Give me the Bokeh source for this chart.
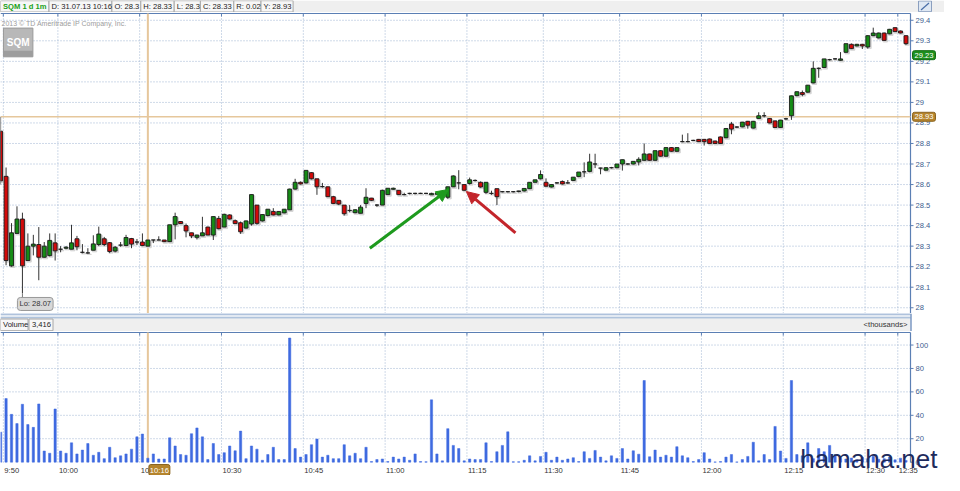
from bokeh.plotting import figure
from bokeh.models import Range1d, Label, Arrow, NormalHead, ColumnDataSource
from bokeh.layouts import column
from bokeh.embed import file_html
from bokeh.resources import INLINE
from bokeh.core.properties import value

# ---------------- data (one bar per traded minute, bar 0 = 9:50) ----------------
bars = list(range(-1, 166))

opens = [
    28.86, 28.64, 28.204, 28.362, 28.432, 28.23, 28.30, 28.308, 28.246, 28.254,
    28.316, 28.285, 28.29, 28.285, 28.336, 28.27, 28.267, 28.28, 28.308, 28.336,
    28.317, 28.276, 28.305, 28.303, 28.337, 28.32, 28.32, 28.30, 28.33, 28.33,
    28.33, 28.322, 28.404, 28.42, 28.40, 28.365, 28.343, 28.35, 28.393, 28.354,
    28.435, 28.393, 28.452, 28.424, 28.414, 28.388, 28.408, 28.50, 28.423, 28.449,
    28.469, 28.452, 28.462, 28.477, 28.578, 28.611, 28.608, 28.658, 28.628, 28.59,
    28.589, 28.541, 28.523, 28.50, 28.474, 28.463, 28.46, 28.508, 28.534, 28.50,
    28.50, 28.551, 28.577, 28.572, 28.551, 28.557, 28.557, 28.557, 28.557, 28.55,
    28.553, 28.549, 28.538, 28.589, 28.608, 28.60, 28.605, 28.62, 28.611, 28.562,
    28.557, 28.58, 28.565, 28.565, 28.565, 28.566, 28.569, 28.58, 28.611, 28.628,
    28.611, 28.588, 28.608, 28.615, 28.608, 28.62, 28.639, 28.662, 28.664, 28.70,
    28.68, 28.67, 28.682, 28.682, 28.70, 28.70, 28.70, 28.71, 28.718, 28.749,
    28.718, 28.765, 28.738, 28.78, 28.762, 28.809, 28.809, 28.815, 28.82, 28.82,
    28.822, 28.812, 28.832, 28.828, 28.895, 28.88, 28.881, 28.908, 28.875, 28.922,
    28.935, 28.922, 28.91, 28.878, 28.92, 28.935, 29.033, 29.048, 29.05, 29.095,
    29.166, 29.17, 29.208, 29.212, 29.205, 29.244, 29.283, 29.275, 29.283, 29.27,
    29.325, 29.314, 29.338, 29.334, 29.364, 29.348, 29.325,
]
highs = [
    28.93, 28.683, 28.412, 28.494, 28.463, 28.362, 28.355, 28.393, 28.32, 28.362,
    28.362, 28.30, 28.30, 28.404, 28.35, 28.31, 28.29, 28.353, 28.395, 28.345,
    28.32, 28.30, 28.32, 28.355, 28.34, 28.335, 28.362, 28.33, 28.33, 28.348,
    28.33, 28.404, 28.463, 28.422, 28.41, 28.365, 28.356, 28.443, 28.395, 28.444,
    28.447, 28.458, 28.455, 28.43, 28.42, 28.425, 28.551, 28.50, 28.454, 28.48,
    28.485, 28.47, 28.48, 28.58, 28.628, 28.615, 28.669, 28.66, 28.628, 28.608,
    28.59, 28.545, 28.525, 28.50, 28.50, 28.48, 28.50, 28.582, 28.535, 28.505,
    28.575, 28.582, 28.585, 28.572, 28.56, 28.56, 28.56, 28.56, 28.56, 28.56,
    28.557, 28.558, 28.59, 28.645, 28.67, 28.60, 28.634, 28.625, 28.615, 28.612,
    28.57, 28.58, 28.568, 28.568, 28.568, 28.57, 28.581, 28.611, 28.623, 28.669,
    28.63, 28.60, 28.612, 28.62, 28.622, 28.636, 28.661, 28.708, 28.75, 28.75,
    28.682, 28.685, 28.686, 28.70, 28.721, 28.704, 28.713, 28.733, 28.80, 28.75,
    28.765, 28.767, 28.78, 28.782, 28.78, 28.843, 28.85, 28.818, 28.822, 28.822,
    28.824, 28.814, 28.834, 28.875, 28.905, 28.884, 28.905, 28.91, 28.91, 28.952,
    28.952, 28.924, 28.912, 28.915, 28.925, 29.033, 29.053, 29.058, 29.085, 29.20,
    29.17, 29.212, 29.212, 29.216, 29.245, 29.286, 29.287, 29.285, 29.285, 29.327,
    29.364, 29.34, 29.34, 29.358, 29.366, 29.35, 29.327,
]
lows = [
    28.60, 28.207, 28.20, 28.36, 28.07, 28.23, 28.255, 28.134, 28.245, 28.25,
    28.23, 28.27, 28.285, 28.285, 28.28, 28.265, 28.263, 28.28, 28.30, 28.30,
    28.266, 28.27, 28.297, 28.30, 28.29, 28.305, 28.30, 28.30, 28.315, 28.33,
    28.32, 28.32, 28.333, 28.408, 28.343, 28.339, 28.333, 28.35, 28.354, 28.33,
    28.382, 28.393, 28.43, 28.41, 28.36, 28.385, 28.40, 28.405, 28.42, 28.445,
    28.45, 28.45, 28.46, 28.477, 28.575, 28.60, 28.605, 28.625, 28.55, 28.585,
    28.54, 28.505, 28.50, 28.449, 28.465, 28.46, 28.46, 28.485, 28.52, 28.492,
    28.50, 28.55, 28.575, 28.55, 28.548, 28.552, 28.552, 28.555, 28.555, 28.55,
    28.55, 28.548, 28.53, 28.588, 28.577, 28.57, 28.60, 28.615, 28.585, 28.555,
    28.55, 28.50, 28.562, 28.562, 28.562, 28.562, 28.566, 28.578, 28.61, 28.625,
    28.59, 28.586, 28.604, 28.60, 28.604, 28.618, 28.636, 28.636, 28.66, 28.68,
    28.65, 28.668, 28.678, 28.68, 28.668, 28.697, 28.698, 28.693, 28.716, 28.716,
    28.716, 28.736, 28.736, 28.76, 28.76, 28.806, 28.806, 28.812, 28.807, 28.79,
    28.798, 28.798, 28.798, 28.826, 28.845, 28.876, 28.879, 28.872, 28.873, 28.92,
    28.927, 28.898, 28.877, 28.876, 28.915, 28.915, 29.03, 29.03, 29.048, 29.093,
    29.12, 29.168, 29.204, 29.208, 29.203, 29.242, 29.26, 29.273, 29.26, 29.262,
    29.323, 29.312, 29.30, 29.332, 29.343, 29.336, 29.28,
]
closes = [
    28.618, 28.23, 28.365, 28.432, 28.204, 28.30, 28.31, 28.246, 28.30, 28.328,
    28.277, 28.285, 28.295, 28.316, 28.297, 28.27, 28.267, 28.311, 28.359, 28.308,
    28.274, 28.295, 28.305, 28.342, 28.31, 28.32, 28.303, 28.33, 28.33, 28.33,
    28.322, 28.404, 28.444, 28.41, 28.374, 28.35, 28.354, 28.365, 28.354, 28.444,
    28.385, 28.455, 28.432, 28.41, 28.37, 28.423, 28.551, 28.411, 28.454, 28.48,
    28.452, 28.469, 28.48, 28.578, 28.611, 28.603, 28.669, 28.628, 28.589, 28.59,
    28.541, 28.508, 28.505, 28.458, 28.474, 28.477, 28.49, 28.538, 28.523, 28.50,
    28.572, 28.582, 28.582, 28.551, 28.551, 28.557, 28.557, 28.557, 28.557, 28.557,
    28.556, 28.557, 28.589, 28.642, 28.608, 28.572, 28.623, 28.62, 28.588, 28.611,
    28.557, 28.541, 28.565, 28.565, 28.565, 28.569, 28.581, 28.611, 28.623, 28.649,
    28.592, 28.60, 28.608, 28.603, 28.608, 28.636, 28.661, 28.662, 28.71, 28.70,
    28.68, 28.682, 28.682, 28.70, 28.721, 28.70, 28.713, 28.723, 28.749, 28.718,
    28.765, 28.738, 28.78, 28.762, 28.78, 28.809, 28.809, 28.815, 28.809, 28.809,
    28.80, 28.80, 28.80, 28.873, 28.87, 28.88, 28.904, 28.889, 28.908, 28.935,
    28.935, 28.90, 28.878, 28.914, 28.92, 29.032, 29.052, 29.039, 29.084, 29.166,
    29.166, 29.212, 29.208, 29.212, 29.212, 29.286, 29.262, 29.283, 29.275, 29.325,
    29.338, 29.338, 29.302, 29.356, 29.345, 29.338, 29.286,
]
volume_k = [
    25.6, 54.3, 40.8, 32.9, 49.4, 32.1, 29.7, 49.7, 9.5, 7.6,
    45.4, 9.5, 7.6, 16.5, 7.0, 10.3, 15.9, 5.9, 8.4, 3.0,
    12.7, 3.8, 5.4, 7.0, 11.1, 21.6, 24.0, 3.4, 7.0, 2.7,
    2.7, 20.8, 13.8, 6.5, 5.9, 24.3, 29.2, 21.6, 2.2, 15.9,
    6.5, 8.1, 13.8, 9.7, 26.5, 3.0, 13.8, 11.1, 1.6, 6.5,
    12.7, 2.2, 2.2, 106.0, 11.6, 4.3, 6.5, 14.9, 19.7, 4.3,
    5.9, 3.0, 3.0, 14.9, 5.4, 7.6, 3.0, 12.7, 0.5, 2.2,
    2.7, 0.5, 4.3, 2.7, 4.3, 1.6, 7.0, 0.5, 0.3, 53.2,
    7.0, 1.1, 28.6, 14.3, 11.6, 1.1, 2.7, 2.2, 2.2, 16.5,
    0.5, 8.9, 14.3, 25.9, 0.3, 0.3, 1.6, 5.4, 1.1, 4.9,
    8.4, 1.6, 4.3, 1.6, 2.7, 3.8, 0.5, 8.9, 3.2, 10.0,
    4.3, 1.1, 5.4, 3.2, 11.6, 2.7, 9.7, 6.8, 69.7, 4.6,
    10.3, 4.3, 5.9, 4.3, 13.2, 5.4, 3.8, 0.5, 2.2, 8.1,
    2.7, 0.2, 0.5, 4.3, 6.5, 0.2, 2.2, 4.9, 17.0, 1.1,
    6.5, 2.2, 30.5, 9.5, 3.2, 69.7, 6.5, 5.4, 16.5, 3.0,
    11.6, 8.9, 14.3, 6.5, 3.2, 2.7, 3.5, 2.0, 4.0, 3.0,
    5.0, 2.5, 3.0, 4.3, 2.0, 3.4, 1.5,
]

tick_bars = [0, 10, 25, 40, 55, 70, 85, 99, 113, 128, 143, 158, 164]
tick_labels = ["9:50", "10:00", "10:15", "10:30", "10:45", "11:00", "11:15",
               "11:30", "11:45", "12:00", "12:15", "12:30", "12:35"]
price_ticks = [28.0, 28.1, 28.2, 28.3, 28.4, 28.5, 28.6, 28.7, 28.8, 28.9,
               29.0, 29.1, 29.2, 29.3, 29.4]
price_labels = ["28", "28.1", "28.2", "28.3", "28.4", "28.5", "28.6", "28.7",
                "28.8", "28.9", "29", "29.1", "29.2", "29.3", "29.4"]
volume_ticks = [0, 20, 40, 60, 80, 100]
volume_labels = ["0", "20", "40", "60", "80", "100"]

header_items = ["SQM 1 d 1m", "D: 31.07.13 10:16", "O: 28.3", "H: 28.33",
                "L: 28.3", "C: 28.33", "R: 0.02", "Y: 28.93"]
cursor_bar = 26
cursor_label = "10:16"
volume_at_cursor = "3,416"
last_price = 29.23
prev_close = 28.93
session_low = 28.07
low_bar = 3
green_arrow = (66.7, 28.29, 81.1, 28.576)
red_arrow = (93.4, 28.365, 84.4, 28.566)

# ---------------- geometry / styling ----------------
FONT = "Liberation Sans"
AX_BLUE = "#5b7fb4"
LBL_BLUE = "#3d5d8e"
GRID = "#9fb4d2"
UP = "#168c16"
DOWN = "#d20a0a"
TAN = "#e6c79c"
GOLD = "#b5842c"
W = 944                 # canvas width
FW = 910                # plotting area width (right of it: value axis)
X0, X1 = -1.02, 165.83  # bar range of the plotting area
PPB = FW / (X1 - X0)    # pixels per bar
XE = X0 + W / PPB       # canvas right edge in bar units
xr = Range1d(X0, XE)
grid_x = [b - 0.5 for b in tick_bars]

PH = 301
P_LO, P_TOP = 27.972, 29.433
P_UPP = (P_TOP - P_LO) / (PH - 1)
VH = 144
V_ZERO, V_TOP = -0.3, 110.7
V_UPP = (V_TOP - V_ZERO) / 130.0


def panel(height, y0, y1):
    f = figure(width=W, height=height, x_range=xr, y_range=Range1d(y0, y1),
               output_backend="svg", toolbar_location=None,
               x_axis_location=None, y_axis_location=None,
               min_border_left=0, min_border_right=0, min_border_top=0,
               min_border_bottom=0, outline_line_color=None)
    f.grid.grid_line_color = None
    f.background_fill_color = "white"
    f.border_fill_color = "white"
    return f


# ---------------- header bar ----------------
h1 = figure(width=W, height=12, x_range=Range1d(0, W), y_range=Range1d(0, 12),
            output_backend="svg", toolbar_location=None,
            min_border_left=0, min_border_right=0, min_border_top=0, min_border_bottom=0,
            x_axis_location=None, y_axis_location=None, outline_line_color=None)
h1.grid.grid_line_color = None
h1.quad(left=0, right=W, bottom=0, top=12, fill_color="#efefef", line_color=None)
bx = [0, 48.5, 111.4, 140.3, 173.7, 199.9, 233.3, 260.5, 292.6]
h1.quad(left=bx[:-1], right=bx[1:], bottom=0.5, top=11.8, fill_color="#f7f7f7",
        line_color="#a8a8a8", line_width=1)
h1.text(x=[b + 2.5 for b in bx[:-1]], y=[6] * len(header_items), text=header_items,
        text_baseline="middle", text_font=value(FONT), text_font_size="7.6px",
        text_color=["#19a019"] + ["#222222"] * (len(header_items) - 1),
        text_font_style=["bold"] + ["normal"] * (len(header_items) - 1))
h1.quad(left=918, right=931, bottom=0.8, top=11.5, fill_color="#dfe8f3",
        line_color="#8b9fbf")
h1.segment(x0=920.5, y0=2.5, x1=928.5, y1=9.5, line_color="#4a6fa8", line_width=1.2)

# ---------------- price panel ----------------
p = panel(PH, P_LO, P_TOP + P_UPP)
dot = dict(line_color=GRID, line_dash="1 2", line_width=1)
p.segment(x0=grid_x, y0=[P_LO] * len(grid_x), x1=grid_x, y1=[P_TOP] * len(grid_x), **dot)
p.segment(x0=[X0] * len(price_ticks), y0=price_ticks, x1=[X1] * len(price_ticks),
          y1=price_ticks, **dot)
p.segment(x0=[X0], y0=[P_TOP], x1=[X1], y1=[P_TOP], line_color=AX_BLUE, line_width=1.2)
p.segment(x0=grid_x, y0=[P_TOP] * len(grid_x), x1=grid_x,
          y1=[P_TOP - 3 * P_UPP] * len(grid_x), line_color=AX_BLUE)
p.segment(x0=[X1], y0=[P_LO], x1=[X1], y1=[P_TOP], line_color=AX_BLUE, line_width=1.2)
p.segment(x0=[X1] * len(price_ticks), y0=price_ticks, x1=[X1 + 3 / PPB] * len(price_ticks),
          y1=price_ticks, line_color=AX_BLUE)
p.text(x=[X1] * len(price_ticks), y=price_ticks, text=price_labels, x_offset=5,
       text_baseline="middle", text_font=value(FONT), text_font_size="7.6px",
       text_color=LBL_BLUE)

p.segment(x0=[X0], y0=[prev_close], x1=[X1], y1=[prev_close], line_color=TAN, line_width=1.6)
p.segment(x0=[cursor_bar], y0=[P_LO], x1=[cursor_bar], y1=[P_TOP], line_color=TAN,
          line_width=2)

src = ColumnDataSource(dict(
    x=bars, h=[max(a, b, c) for a, b, c in zip(highs, opens, closes)],
    l=[min(a, b, c) for a, b, c in zip(lows, opens, closes)],
    top=[max(a, b) for a, b in zip(opens, closes)],
    bot=[min(a, b) for a, b in zip(opens, closes)],
    col=[UP if c >= o else DOWN for o, c in zip(opens, closes)],
))
shadow = ColumnDataSource(dict(
    x=[b + 1.2 / PPB for b in bars],
    top=[max(a, b) - 1.2 * P_UPP for a, b in zip(opens, closes)],
    bot=[min(a, b) - 1.6 * P_UPP for a, b in zip(opens, closes)],
))
p.vbar(x="x", width=0.8, top="top", bottom="bot", source=shadow, fill_color="#d4d4d4",
       line_color="#d4d4d4", line_width=1)
p.segment(x0="x", y0="l", x1="x", y1="h", source=src, line_color="#333333", line_width=1)
p.vbar(x="x", width=0.72, top="top", bottom="bot", source=src, fill_color="col",
       line_color="#1b1b1b", line_width=0.9)

# logo + copyright
p.add_layout(Label(x=X0, y=P_TOP, x_offset=1, y_offset=-6,
                   text="2013 © TD Ameritrade IP Company, Inc.",
                   text_font=FONT, text_font_size="7px", text_color="#9c9c9c",
                   text_baseline="top"))
p.quad(left=-0.48, right=4.92, bottom=29.222, top=29.362, fill_color="#b8b8b8",
       line_color="#9a9a9a")
p.quad(left=-0.48, right=4.92, bottom=29.222, top=29.252, fill_color="#9d9d9d",
       line_color=None)
p.text(x=[2.22], y=[29.29], text=["SQM"], text_align="center", text_baseline="middle",
       text_font=value(FONT), text_font_size="10px", text_font_style="bold",
       text_color="white")

# session low tag
p.segment(x0=[low_bar], y0=[session_low], x1=[low_bar], y1=[session_low - 0.02],
          line_color="#777777", line_width=1)
p.add_layout(Label(x=low_bar, y=session_low - 0.02, x_offset=-5, y_offset=0,
                   text="Lo: " + f"{session_low:.2f}", text_baseline="top",
                   text_font=FONT, text_font_size="7.6px", text_color="#333333",
                   background_fill_color="#d8d8d8", border_line_color="#999999",
                   padding=2, border_radius=3))

# arrows
for (xs, ys, xe, ye), colr in ((green_arrow, "#1e9a1e"), (red_arrow, "#c3252b")):
    p.add_layout(Arrow(x_start=xs, y_start=ys, x_end=xe, y_end=ye,
                       line_color=colr, line_width=3,
                       end=NormalHead(size=12, fill_color=colr, line_color=colr)))

# value-axis tags
p.text(x=[X1, X1], y=[last_price, prev_close],
       text=[f"{last_price:.2f}", f"{prev_close:.2f}"], x_offset=2,
       text_baseline="middle", text_font=value(FONT), text_font_size="7.6px",
       text_color="white", background_fill_color=["#1d8f1d", GOLD],
       border_line_color=["#136b13", "#8a6420"], padding=2, border_radius=2)

# ---------------- separator + volume header ----------------
h2 = figure(width=W, height=18, x_range=Range1d(0, W), y_range=Range1d(0, 18),
            output_backend="svg", toolbar_location=None,
            min_border_left=0, min_border_right=0, min_border_top=0, min_border_bottom=0,
            x_axis_location=None, y_axis_location=None, outline_line_color=None)
h2.grid.grid_line_color = None
h2.quad(left=0, right=FW, bottom=13, top=18, fill_color="#e2e9f2", line_color=None)
h2.segment(x0=[0, 0], y0=[17.5, 13.5], x1=[FW, FW], y1=[17.5, 13.5],
           line_color="#7d9cc6", line_width=1)
h2.quad(left=0, right=FW, bottom=0, top=13, fill_color="#efefef", line_color=None)
h2.quad(left=[0, 28.5], right=[27.5, 52.5], bottom=0.8, top=12.5, fill_color="#f7f7f7",
        line_color="#a8a8a8")
h2.text(x=[2.5, 31.5], y=[6.6, 6.6], text=["Volume", volume_at_cursor],
        text_baseline="middle", text_font=value(FONT), text_font_size="7.6px",
        text_color="#222222")
h2.text(x=[FW - 3], y=[6.6], text=["<thousands>"], text_align="right",
        text_baseline="middle", text_font=value(FONT), text_font_size="7.6px",
        text_color="#333333")
h2.segment(x0=[FW + 0.5], y0=[0], x1=[FW + 0.5], y1=[18], line_color=AX_BLUE,
           line_width=1.2)

# ---------------- volume panel ----------------
v = panel(VH, V_ZERO - 13 * V_UPP, V_TOP + V_UPP)
v.segment(x0=grid_x, y0=[V_ZERO] * len(grid_x), x1=grid_x, y1=[V_TOP] * len(grid_x), **dot)
v.segment(x0=[X0] * 5, y0=volume_ticks[1:], x1=[X1] * 5, y1=volume_ticks[1:], **dot)
v.segment(x0=[X0], y0=[V_TOP], x1=[X1], y1=[V_TOP], line_color=AX_BLUE, line_width=1.2)
v.segment(x0=grid_x, y0=[V_TOP] * len(grid_x), x1=grid_x,
          y1=[V_TOP - 3 * V_UPP] * len(grid_x), line_color=AX_BLUE)
v.segment(x0=[X1], y0=[V_ZERO], x1=[X1], y1=[V_TOP], line_color=AX_BLUE, line_width=1.2)
v.segment(x0=[X1] * len(volume_ticks), y0=volume_ticks,
          x1=[X1 + 3 / PPB] * len(volume_ticks), y1=volume_ticks, line_color=AX_BLUE)
v.text(x=[X1] * len(volume_ticks), y=volume_ticks, text=volume_labels, x_offset=5,
       text_baseline="middle", text_font=value(FONT), text_font_size="7.6px",
       text_color=LBL_BLUE)
v.text(x=grid_x, y=[V_ZERO] * len(grid_x), text=tick_labels, x_offset=1, y_offset=3,
       text_baseline="top", text_font=value(FONT), text_font_size="7.6px",
       text_color="#333333")

v.segment(x0=[cursor_bar], y0=[V_ZERO], x1=[cursor_bar], y1=[V_TOP], line_color=TAN,
          line_width=2)
v.vbar(x=bars, width=0.42, top=volume_k, bottom=0, fill_color="#3f6ae0",
       line_color="#3f6ae0", line_width=0.5)
v.text(x=[cursor_bar], y=[V_ZERO], text=[cursor_label], x_offset=1, y_offset=2,
       text_baseline="top", text_font=value(FONT), text_font_size="7.6px",
       text_color="white", background_fill_color=GOLD, border_line_color="#8a6420",
       padding=1, border_radius=2)
v.text(x=[X1], y=[V_ZERO], text=["hamaha.net"], x_offset=27, y_offset=11,
       text_align="right", text_baseline="bottom", text_font=value(FONT),
       text_font_size="26px", text_color="#1e2b5c")

layout = column(h1, p, h2, v, spacing=0)
open("out.html", "w").write(file_html(layout, INLINE))
